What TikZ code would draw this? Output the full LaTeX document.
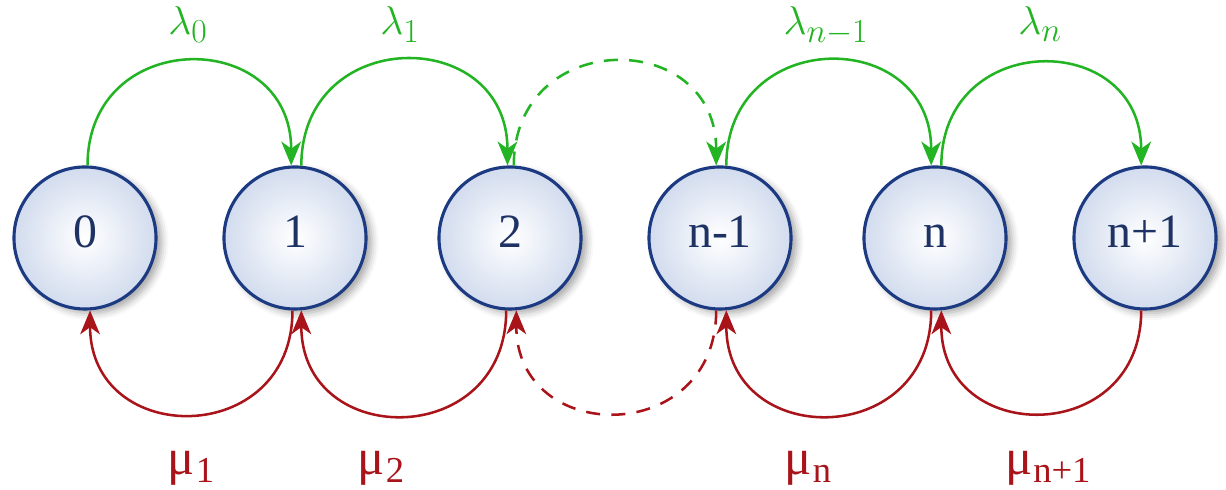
\documentclass[tikz,border=0pt]{standalone}
\usepackage{fontspec}
\setmainfont{Liberation Serif}
\usetikzlibrary{arrows.meta,shadows.blur}
\definecolor{nodeblue}{RGB}{27,58,130}
\definecolor{fillblue}{RGB}{210,220,238}
\definecolor{arcgreen}{RGB}{34,180,34}
\definecolor{arcred}{RGB}{168,20,25}
\definecolor{txtblue}{RGB}{30,50,100}
\newcommand\mulab[1]{μ\kern0.5pt\raisebox{-5pt}{\fontsize{26}{28}\selectfont #1}}
\newcommand\lamlab[1]{\scalebox{1.15}{$\lambda_{#1}$}}
\begin{document}
\begin{tikzpicture}[x=0.025cm,y=0.025cm,
  state/.style={circle, draw=nodeblue, line width=2.2pt, inner color=white, outer color=fillblue,
    minimum size=3.55cm, inner sep=0pt, text=txtblue, font=\fontsize{34}{40}\selectfont,
    text height=24pt, text depth=9.8pt,
    blur shadow={shadow xshift=4pt, shadow yshift=-3pt, shadow blur radius=5pt, shadow opacity=35}},
  garc/.style={draw=arcgreen, line width=1.8pt, -{Stealth[length=17pt,width=14pt,inset=5pt]}, out=90, in=90, looseness=1.75},
  rarc/.style={draw=arcred, line width=1.8pt, -{Stealth[length=17pt,width=14pt,inset=5pt]}, out=-90, in=-90, looseness=1.75},
  dashpat/.style={dash pattern=on 10pt off 8pt},
  lam/.style={anchor=base, text=arcgreen, font=\fontsize{24.88}{30}\selectfont},
  mul/.style={anchor=base, text=arcred, font=\fontsize{36}{40}\selectfont}
]
\useasboundingbox (0,0) rectangle (1226,490);
\node[state] (s0) at (85,252) {0};
\node[state] (s1) at (295,252) {1};
\node[state] (s2) at (510,252) {2};
\node[state] (s3) at (720,252) {n-1};
\node[state] (s4) at (935,252) {n};
\node[state] (s5) at (1145,252) {n+1};

\draw[garc] (s0.88) to (s1.93);
\draw[garc] (s1.85) to (s2.92);
\draw[garc,dashpat] (s2.87) to (s3.93);
\draw[garc] (s3.85) to (s4.93);
\draw[garc] (s4.85) to (s5.93);

\draw[rarc] (s1.-92) to (s0.-86);
\draw[rarc] (s2.-93) to (s1.-85);
\draw[rarc,dashpat] (s3.-93) to (s2.-85);
\draw[rarc] (s4.-93) to (s3.-85);
\draw[rarc] (s5.-93) to (s4.-85);

\node[lam] (l0) at (188,455) {\lamlab{0}};
\node[lam] (l1) at (400,455) {\lamlab{1}};
\node[lam] (l3) at (826,455) {\lamlab{n-1}};
\node[lam] (l4) at (1040,455) {\lamlab{n}};

\node[mul] (m1) at (191,15) {\mulab{1}};
\node[mul] (m2) at (381,15) {\mulab{2}};
\node[mul] (m4) at (808,15) {\mulab{n}};
\node[mul] (m5) at (1048,15) {\mulab{n+1}};
\end{tikzpicture}
\end{document}
